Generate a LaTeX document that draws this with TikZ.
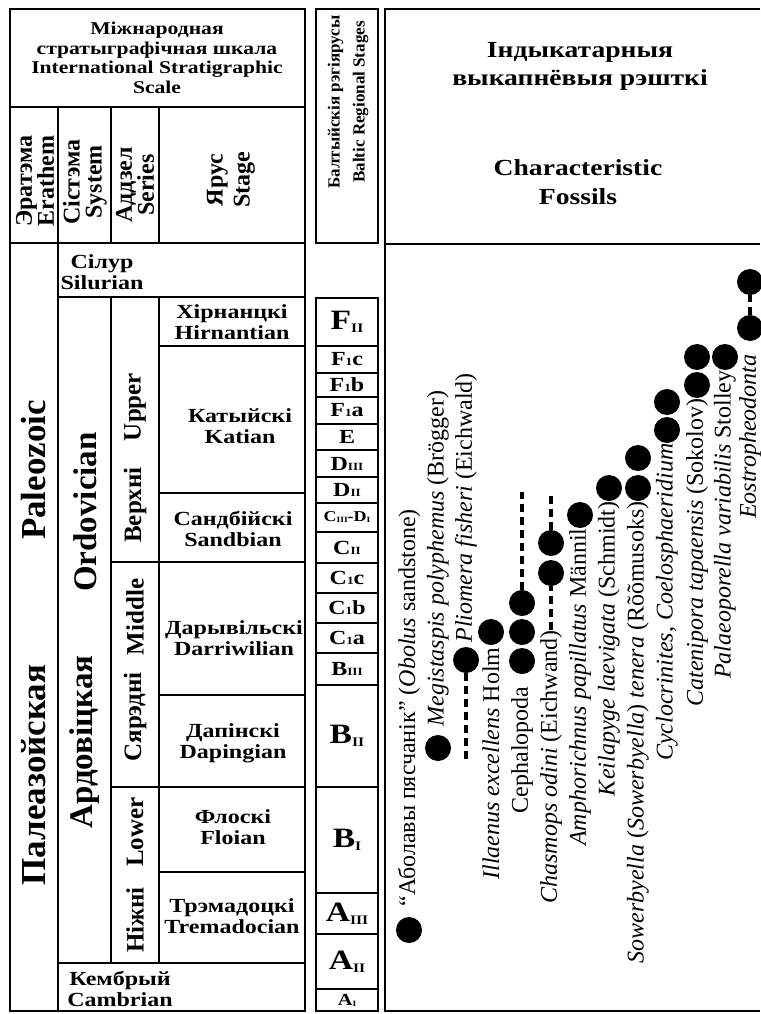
\documentclass[tikz,border=0pt]{standalone}
\usepackage{fontspec}
\setmainfont{Liberation Serif}
\newfontfamily\widefont[FakeStretch=1.2]{Liberation Serif}

\newcommand{\bigst}[2]{{\fontsize{28}{28}\selectfont #1}\raisebox{-3pt}{\fontsize{13}{13}\selectfont #2}}
\newcommand{\smst}[2]{#1{\fontsize{11}{11}\selectfont #2}}
\newcommand{\tinyst}[2]{#1\raisebox{-1pt}{\fontsize{8}{8}\selectfont #2}}

\tikzset{
  frame/.style={line width=2.4pt},
  tab/.style={inner sep=0pt, align=center, font=\widefont\bfseries\fontsize{20}{21}\selectfont},
  vhead/.style={rotate=90, inner sep=0pt, align=center, font=\bfseries\fontsize{24}{22}\selectfont},
  vbig/.style={rotate=90, inner sep=0pt, font=\bfseries\fontsize{35}{35}\selectfont},
  vser/.style={rotate=90, inner sep=0pt, font=\bfseries\fontsize{25}{25}\selectfont},
  fossil/.style={rotate=90, inner sep=0pt, font=\fontsize{24}{24}\selectfont},
  dot/.style={circle, fill=black, inner sep=0pt, minimum size=26pt},
  rangeline/.style={line width=4pt, dash pattern=on 8pt off 5pt}
}

\begin{document}
\begin{tikzpicture}[x=1pt,y=-1pt]
\useasboundingbox (0,0) rectangle (760,1014);

% international scale
\draw[frame] (10,9) rectangle (305,107);
\node[tab, font=\widefont\bfseries\fontsize{18}{19.5}\selectfont] (scale) at (157,58)
  {Міжнародная\\стратыграфічная шкала\\International Stratigraphic\\Scale};
\foreach \xa/\xb in {10/58,58/111,111/159,159/305}
  \draw[frame] (\xa,107) rectangle (\xb,243);
\node[vhead] (erathem) at (35,181) {Эратэма\\Erathem};
\node[vhead] (system) at (85,182) {Сістэма\\System};
\node[vhead] (series) at (135,185) {Аддзел\\Series};
\node[vhead, font=\bfseries\fontsize{24}{27}\selectfont] (stage) at (231,180) {Ярус\\Stage};

\draw[frame] (10,243) rectangle (58,1011);
\draw[frame] (58,243) rectangle (305,297);
\draw[frame] (58,297) rectangle (111,963);
\draw[frame] (58,963) rectangle (305,1011);
\foreach \ya/\yb in {297/562,562/787,787/963}
  \draw[frame] (111,\ya) rectangle (159,\yb);
\foreach \ya/\yb in {297/346,346/493,493/562,562/695,695/787,787/872,872/963}
  \draw[frame] (159,\ya) rectangle (305,\yb);

\node[vbig] (paleoBe) at (34,775) {Палеазойская};
\node[vbig] (paleoEn) at (34,470) {Paleozoic};
\node[vbig, font=\bfseries\fontsize{33}{33}\selectfont] (ordoBe) at (85,742) {Ардовіцкая};
\node[vbig, font=\bfseries\fontsize{33}{33}\selectfont] (ordoEn) at (85,512) {Ordovician};
\node[vser] (upperBe) at (135,505) {Верхні};
\node[vser] (upperEn) at (135,407) {Upper};
\node[vser] (middleBe) at (135,717) {Сярэдні};
\node[vser] (middleEn) at (135,617) {Middle};
\node[vser] (lowerBe) at (135,920) {Ніжні};
\node[vser] (lowerEn) at (135,832) {Lower};

\node[tab] (silurian) at (102,272) {Сілур\\Silurian};
\node[tab] (hirnantian) at (232,322) {Хірнанцкі\\Hirnantian};
\node[tab] (katian) at (240,426) {Катыйскі\\Katian};
\node[tab] (sandbian) at (233,529) {Сандбійскі\\Sandbian};
\node[tab] (darriwilian) at (234,638) {Дарывільскі\\Darriwilian};
\node[tab] (dapingian) at (233,743) {Дапінскі\\Dapingian};
\node[tab] (floian) at (233,827) {Флоскі\\Floian};
\node[tab] (tremadocian) at (232,916) {Трэмадоцкі\\Tremadocian};
\node[tab] (cambrian) at (120,989) {Кембрый\\Cambrian};

% baltic stages
\draw[frame] (316,9) rectangle (378,243);
\node[vhead, font=\bfseries\fontsize{17}{25}\selectfont] (baltic) at (348,102)
  {Балтыйскія рэгіярусы\\Baltic Regional Stages};
\foreach \ya/\yb/\lab in {298/346/{\bigst{F}{II}}, 346/373/{\smst{F}{1}c}, 373/397/{\smst{F}{1}b},
    397/424/{\smst{F}{1}a}, 424/450/E, 450/477/{\smst{D}{III}}, 477/503/{\smst{D}{II}},
    503/532/{{\fontsize{15}{15}\selectfont\tinyst{C}{III}-\tinyst{D}{I}}}, 532/563/{\smst{C}{II}},
    563/593/{\smst{C}{1}c}, 593/623/{\smst{C}{1}b}, 623/653/{\smst{C}{1}a}, 653/685/{\smst{B}{III}},
    685/787/{\bigst{B}{II}}, 787/893/{\bigst{B}{I}}, 893/934/{\bigst{A}{III}}, 934/989/{\bigst{A}{II}},
    989/1011/{{\fontsize{17}{17}\selectfont\tinyst{A}{I}}}}
{
  \draw[frame] (316,\ya) rectangle (378,\yb);
  \node[tab] (bs\ya) at (347,{(\ya+\yb)/2}) {\lab};
}

% characteristic fossils
\draw[frame] (760,9) -- (385,9) -- (385,1011) -- (760,1011);
\draw[frame] (385,244) -- (760,244);
\node[tab, font=\widefont\bfseries\fontsize{23}{28}\selectfont] (fossilBe) at (580,66)
  {Індыкатарныя\\выкапнёвыя рэшткі};
\node[tab, font=\widefont\bfseries\fontsize{23}{29}\selectfont] (fossilEn) at (578,182)
  {Characteristic\\Fossils};

\node[dot] (obolusD) at (409,930) {};
\node[fossil, anchor=west] (obolus) at ([yshift=10pt]obolusD.north)
  {“Аболавы пясчанік” (\textit{Obolus} sandstone)};
\node[dot] (megisD) at (438,748) {};
\node[fossil, anchor=west] (megis) at ([yshift=8pt]megisD.north)
  {\textit{Megistaspis polyphemus} (Brögger)};
\node[dot] (pliomD) at (466,660) {};
\node[fossil, anchor=west] (pliom) at ([yshift=4pt]pliomD.north)
  {\textit{Pliomera fisheri} (Eichwald)};
\coordinate (pliomE) at (466,760);
\draw[rangeline] (pliomD) -- (pliomE);

\node[dot] (illaeD) at (491,632) {};
\node[fossil, anchor=east] (illae) at ([yshift=-2pt]illaeD.south) {\textit{Illaenus excellens} Holm};
\node[dot] (cephD1) at (522,661) {};
\node[dot] (cephD2) at (522,632) {};
\node[dot] (cephD3) at (522,603) {};
\node[fossil, anchor=east] (ceph) at ([yshift=-12pt]cephD1.south) {Cephalopoda};
\coordinate (cephE) at (522,492);
\draw[rangeline] (cephD3) -- (cephE);
\node[dot] (chasD1) at (551,573) {};
\node[dot] (chasD2) at (551,543) {};
\node[fossil, anchor=east] (chas) at (551,630) {\textit{Chasmops odini} (Eichwand)};
\coordinate (chasE) at (551,492);
\draw[rangeline] (chas.east) -- (chasD1);
\draw[rangeline] (chasD2) -- (chasE);
\node[dot] (amphD) at (580,515) {};
\node[fossil, anchor=east] (amph) at (amphD.south) {\textit{Amphorichnus papillatus} Männil};
\node[dot] (keilD) at (609,488) {};
\node[fossil, anchor=east] (keil) at (keilD.south) {\textit{Keilapyge laevigata} (Schmidt)};
\node[dot] (sowD1) at (638,488) {};
\node[dot] (sowD2) at (638,458) {};
\node[fossil, anchor=east] (sow) at (sowD1.south)
  {\textit{Sowerbyella} (\textit{Sowerbyella}) \textit{tenera} (Rõõmusoks)};
\node[dot] (cycD1) at (667,430) {};
\node[dot] (cycD2) at (667,402) {};
\node[fossil, anchor=east] (cyc) at (cycD1.south) {\textit{Cyclocrinites}, \textit{Coelosphaeridium}};
\node[dot] (catD1) at (697,385) {};
\node[dot] (catD2) at (697,357) {};
\node[fossil, anchor=east] (cat) at (catD1.south) {\textit{Catenipora tapaensis} (Sokolov)};
\node[dot] (palD) at (725,357) {};
\node[fossil, anchor=east] (pal) at (palD.south) {\textit{Palaeoporella variabilis} Stolley};
\node[dot] (eostD1) at (750,328) {};
\node[dot] (eostD2) at (750,282) {};
\node[fossil, anchor=east] (eost) at ([yshift=-13pt]eostD1.south) {\textit{Eostropheodonta}};
\draw[rangeline] (eostD1) -- (eostD2);

\end{tikzpicture}
\end{document}
